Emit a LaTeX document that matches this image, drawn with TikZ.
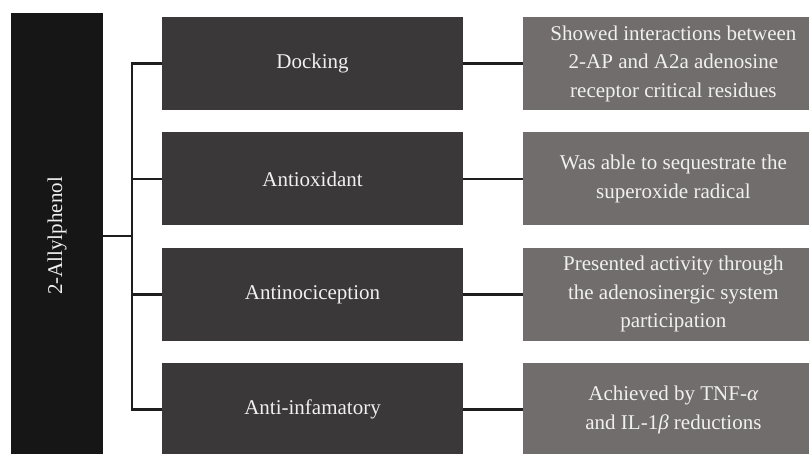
\documentclass[tikz,border=0pt]{standalone}
\usepackage{fontspec}
\setmainfont{Liberation Serif}
\usepackage{tikz}
\usetikzlibrary{positioning}
\definecolor{rootgray}{RGB}{23,22,22}
\definecolor{methodgray}{RGB}{58,56,57}
\definecolor{resultgray}{RGB}{113,109,108}
\definecolor{linkgray}{RGB}{30,30,30}
\definecolor{labelwhite}{RGB}{240,240,240}
\tikzset{
    root/.style={rectangle, fill=rootgray, minimum width=92pt, minimum height=446pt, inner sep=0pt},
    method/.style={rectangle, fill=methodgray, minimum width=301pt, minimum height=93pt, inner sep=0pt, text=labelwhite, text centered},
    result/.style={rectangle, fill=resultgray, minimum width=300pt, minimum height=93pt, inner sep=0pt, text=labelwhite, align=center},
    link/.style={line width=2.5pt, draw=linkgray}
}

\begin{document}
\begin{tikzpicture}[x=1pt, y=-1pt, font=\fontsize{21}{28.5}\selectfont]
    \useasboundingbox (0,0) rectangle (809,453);
    \clip (0,0) rectangle (809,453);

    % Compound
    \node[root] (root) at (57,236) {};
    \node[rotate=90, text=labelwhite] (rootlabel) at (root.center) {2-Allylphenol};

    % Assays
    \node[method] (dock) at (312.5,63.5) {Docking};
    \node[method, below=22pt of dock] (oxid) {Antioxidant};
    \node[method, below=22pt of oxid] (noci) {Antinociception};
    \node[method, below=22pt of noci] (infl) {Anti-infamatory};

    % Findings
    \node[result, right=60pt of dock] (dockres) {Showed interactions between\\2-AP and A2a adenosine\\receptor critical residues};
    \node[result, right=60pt of oxid] (oxidres) {Was able to sequestrate the\\superoxide radical};
    \node[result, right=60pt of noci] (locires) {Presented activity through\\the adenosinergic system\\participation};
    \node[result, right=60pt of infl] (inflres) {Achieved by TNF-\textit{α}\\and IL-1\textit{β} reductions};

    % Bracket
    \coordinate (spine) at (132,236);
    \draw[link] (root.east |- spine) -- (spine);
    \draw[link] (dock.west) -| (spine);
    \draw[link] (infl.west) -| (spine);
    \draw[link] (oxid.west) -- (oxid.west -| spine);
    \draw[link] (noci.west) -- (noci.west -| spine);

    % Assay to finding
    \draw[link] (dock) -- (dockres);
    \draw[link] (oxid) -- (oxidres);
    \draw[link] (noci) -- (locires);
    \draw[link] (infl) -- (inflres);
\end{tikzpicture}
\end{document}
